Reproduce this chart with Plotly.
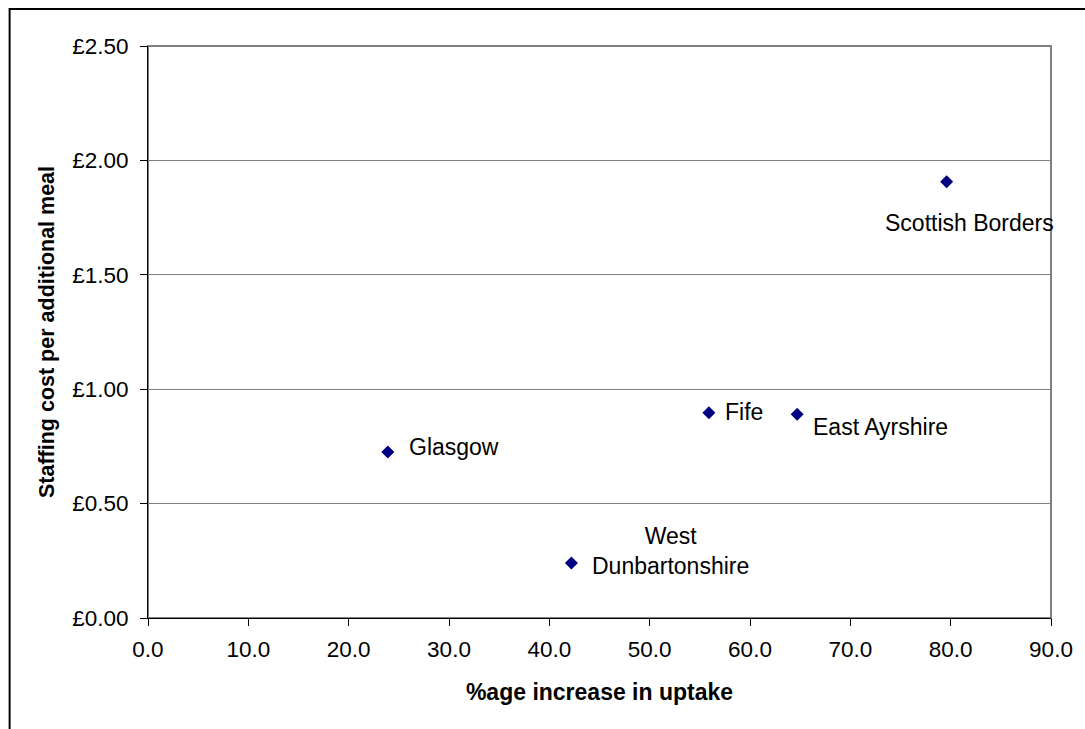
import plotly.graph_objects as go

regions = ["Glasgow", "West<br>Dunbartonshire", "Fife", "East Ayrshire", "Scottish Borders"]
uptake_increase = [23.9, 42.2, 55.9, 64.7, 79.6]
staff_cost = [0.726, 0.24, 0.897, 0.89, 1.907]

x_ticks = [0, 10, 20, 30, 40, 50, 60, 70, 80, 90]
y_ticks = [0, 0.5, 1.0, 1.5, 2.0, 2.5]

# label placement (pixel offsets from each point)
label_pos = {
    "Glasgow": dict(xanchor="left", xshift=19, yshift=5),
    "West<br>Dunbartonshire": dict(xanchor="center", xshift=99, yshift=12),
    "Fife": dict(xanchor="left", xshift=14, yshift=1),
    "East Ayrshire": dict(xanchor="left", xshift=14, yshift=-13),
    "Scottish Borders": dict(xanchor="center", xshift=23, yshift=-41),
}

FONT = "Liberation Sans, Arial, sans-serif"

fig = go.Figure()
fig.add_trace(go.Scatter(
    x=uptake_increase, y=staff_cost, mode="markers",
    marker=dict(symbol="diamond", size=10, color="#000080"),
    hoverinfo="skip", showlegend=False,
))

for name, xv, yv in zip(regions, uptake_increase, staff_cost):
    p = label_pos[name]
    fig.add_annotation(x=xv, y=yv, xref="x", yref="y", text=name, showarrow=False,
                       xanchor=p["xanchor"], yanchor="middle", xshift=p["xshift"],
                       yshift=p["yshift"], align="center",
                       font=dict(family=FONT, size=23, color="black"))

L, R, T, B = 148, 1055, 46, 618
W, H = 1085, 729
pw, ph = R - L, B - T
# outer chart border (clipped by the viewport like the reference)
fig.add_shape(type="rect", xref="paper", yref="paper",
              x0=(9 - L) / pw, x1=(1100 - L) / pw,
              y0=(B - 745) / ph, y1=(B - 9) / ph,
              line=dict(color="black", width=2), fillcolor="rgba(0,0,0,0)", layer="below")
# plot area border (top & right grey)
fig.add_shape(type="rect", xref="paper", yref="paper", x0=0, x1=1, y0=0, y1=1,
              line=dict(color="#808080", width=2), fillcolor="rgba(0,0,0,0)", layer="below")

fig.update_layout(
    width=W, height=H,
    margin=dict(l=L, r=W - R, t=T, b=H - B),
    paper_bgcolor="white", plot_bgcolor="white",
    font=dict(family=FONT, size=22.5, color="black"),
    xaxis=dict(range=[0, 90], tickvals=x_ticks, ticktext=[f"{v:.1f}" for v in x_ticks],
               showgrid=False, zeroline=False, showline=True, linecolor="black", linewidth=1,
               ticks="outside", ticklen=7, tickcolor="black", ticklabelstandoff=4,
               title=dict(text="<b>%age increase in uptake</b>", standoff=22,
                          font=dict(family=FONT, size=23))),
    yaxis=dict(range=[0, 2.5], tickvals=y_ticks, ticktext=[f"£{v:.2f}" for v in y_ticks],
               showgrid=True, gridcolor="#808080", gridwidth=1, zeroline=False,
               showline=True, linecolor="black", linewidth=1,
               ticks="outside", ticklen=7, tickcolor="black", ticklabelstandoff=7,
               title=dict(text="<b>Staffing cost per additional meal</b>", standoff=11,
                          font=dict(family=FONT, size=21.5))),
)

fig.write_html("out.html", config={"displayModeBar": False},
               post_script="document.body.style.margin='0';document.body.style.overflow='hidden';")
